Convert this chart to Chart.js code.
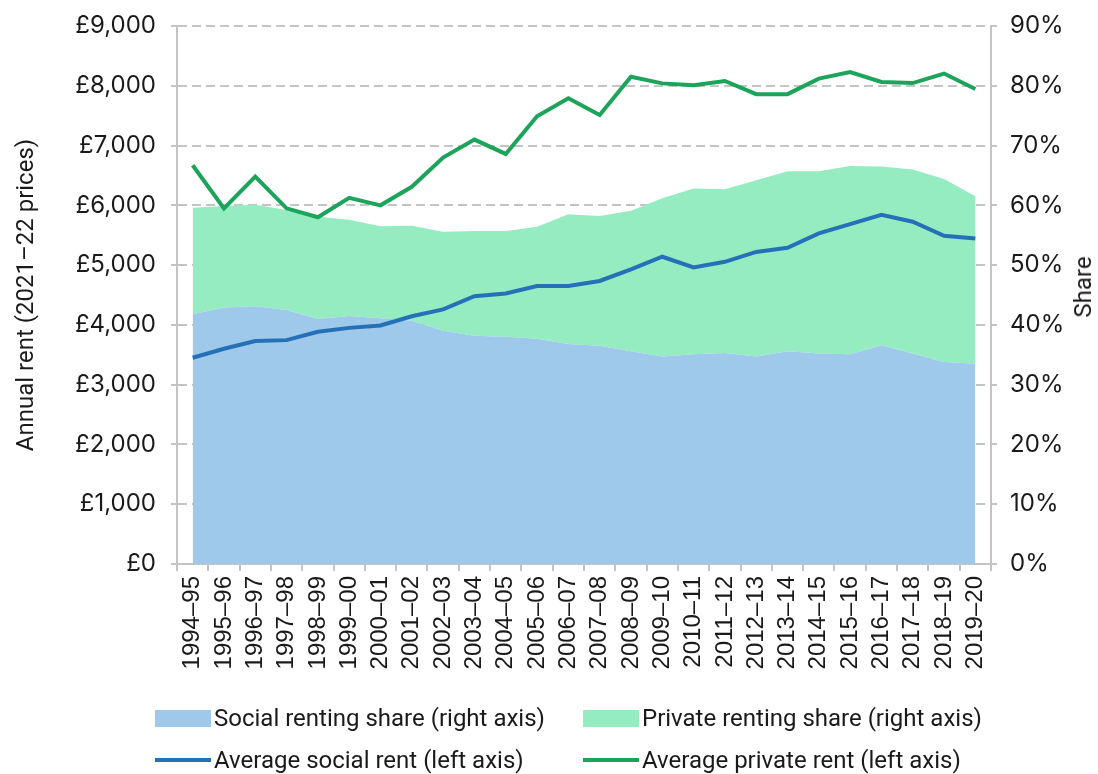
<!DOCTYPE html>
<html>
<head>
<meta charset="utf-8">
<script src="https://cdn.jsdelivr.net/npm/chart.js@4"></script>
<style>
  body { margin: 0; background: #fff; }
  #wrap { position: relative; width: 1098px; height: 774px; }
  #rentChart { position: absolute; left: 0; top: 0; }
  #shareTitle {
    position: absolute; left: 1083px; top: 287px;
    transform: translate(-50%, -50%) rotate(-90deg);
    font: 24px Roboto, sans-serif; color: #1a1a1a; white-space: nowrap;
  }
  #legend {
    position: absolute; left: 155px; top: 704px;
    display: grid; grid-template-columns: 428px auto; row-gap: 14px;
    font: 24px Roboto, sans-serif; color: #1a1a1a;
  }
  .item { display: flex; align-items: center; height: 28px; white-space: nowrap; }
  .swatch { display: inline-block; width: 56px; margin-right: 3px; }
</style>
</head>
<body>
<div id="wrap">
  <canvas id="rentChart" width="1098" height="774"></canvas>
  <div id="shareTitle">Share</div>
  <div id="legend"></div>
</div>
<script>
// Data

const years = ['1994–95', '1995–96', '1996–97', '1997–98', '1998–99', '1999–00', '2000–01',
    '2001–02', '2002–03', '2003–04', '2004–05', '2005–06', '2006–07', '2007–08', '2008–09',
    '2009–10', '2010–11', '2011–12', '2012–13', '2013–14', '2014–15', '2015–16', '2016–17',
    '2017–18', '2018–19', '2019–20'];

// shares of households, %
const socialShare = [41.8, 42.9, 43.1, 42.5, 41.0, 41.5, 41.1, 40.7, 39.0, 38.2, 38.0, 37.7, 36.8,
    36.5, 35.6, 34.7, 35.1, 35.3, 34.7, 35.6, 35.2, 35.1, 36.6, 35.2, 33.8, 33.5];
const privateShare = [17.8, 17.0, 17.0, 16.7, 17.1, 16.1, 15.4, 15.9, 16.6, 17.5, 17.7, 18.7, 21.7,
    21.7, 23.5, 26.5, 27.7, 27.4, 29.5, 30.1, 30.5, 31.5, 29.9, 30.8, 30.6, 28.0];

// annual rent, £ (2021-22 prices)
const socialRent = [3450, 3600, 3730, 3745, 3885, 3950, 3990, 4145, 4260, 4480, 4525, 4650, 4650,
    4735, 4930, 5140, 4960, 5055, 5220, 5290, 5530, 5685, 5840, 5725, 5490, 5445];
const privateRent = [6670, 5950, 6480, 5950, 5800, 6125, 6000, 6310, 6800, 7100, 6860, 7490, 7790,
    7510, 8150, 8040, 8010, 8080, 7860, 7860, 8120, 8230, 8065, 8045, 8205, 7945];

const rentTicks = ['£0', '£1,000', '£2,000', '£3,000', '£4,000', '£5,000', '£6,000', '£7,000', '£8,000', '£9,000'];
const shareTicks = ['0%', '10%', '20%', '30%', '40%', '50%', '60%', '70%', '80%', '90%'];

const GRID = '#c4c4c4';
const TEXT = '#1a1a1a';

const datasets = [
    {
        label: 'Social renting share (right axis)',
        data: socialShare,
        yAxisID: 'y2',
        stack: 'share',
        backgroundColor: 'rgb(158, 201, 235)',
        borderWidth: 0,
        pointRadius: 0,
        fill: 'origin',
        order: 2,
        legendType: 'box'
    },
    {
        label: 'Private renting share (right axis)',
        data: privateShare,
        yAxisID: 'y2',
        stack: 'share',
        backgroundColor: 'rgb(149, 236, 192)',
        borderWidth: 0,
        pointRadius: 0,
        fill: '-1',
        order: 2,
        legendType: 'box'
    },
    {
        label: 'Average social rent (left axis)',
        data: socialRent,
        yAxisID: 'y',
        borderColor: '#2571b8',
        backgroundColor: '#2571b8',
        borderWidth: 4,
        pointRadius: 0,
        fill: false,
        tension: 0,
        order: 0,
        legendType: 'line'
    },
    {
        label: 'Average private rent (left axis)',
        data: privateRent,
        yAxisID: 'y',
        borderColor: '#1ca45b',
        backgroundColor: '#1ca45b',
        borderWidth: 4,
        pointRadius: 0,
        fill: false,
        tension: 0,
        order: 0,
        legendType: 'line'
    }
];

// fix the side axes' size so the plot area lands where the original has it
function fixSide(width) {
    return (scale) => {
        scale.width = width;
        scale.paddingTop = 12;
        scale.paddingBottom = 12;
    };
}

const ctx = document.getElementById('rentChart').getContext('2d');

const rentChart = new Chart(ctx, {
    type: 'line',
    data: { labels: years, datasets: datasets },
    options: {
        responsive: false,
        animation: false,
        layout: { padding: { top: 26, right: 0, bottom: 0, left: 0 } },
        plugins: {
            legend: { display: false },
            tooltip: { enabled: false }
        },
        scales: {
            x: {
                offset: true,
                grid: {
                    offset: true,
                    drawOnChartArea: false,
                    color: GRID,
                    lineWidth: 2,
                    tickLength: 7
                },
                border: { color: GRID, width: 2 },
                ticks: {
                    autoSkip: false,
                    minRotation: 90,
                    maxRotation: 90,
                    padding: 5,
                    color: TEXT,
                    font: { family: 'Liberation Sans, Arial, sans-serif', size: 24 }
                },
                afterFit: (scale) => { scale.height = 210; }
            },
            y: {
                position: 'left',
                min: 0,
                max: 9000,
                ticks: {
                    stepSize: 1000,
                    padding: 15,
                    color: TEXT,
                    font: { family: 'Inter, sans-serif', size: 24 },
                    callback: (value, i) => rentTicks[i]
                },
                grid: {
                    color: GRID,
                    lineWidth: 2,
                    tickLength: 6
                },
                border: { color: GRID, width: 2, dash: [9, 5] },
                title: {
                    display: true,
                    text: 'Annual rent (2021–22 prices)',
                    color: TEXT,
                    padding: { top: 13, bottom: 0 },
                    font: { family: 'Roboto, sans-serif', size: 24 }
                },
                afterFit: fixSide(177)
            },
            y2: {
                position: 'right',
                stacked: true,
                min: 0,
                max: 90,
                ticks: {
                    stepSize: 10,
                    padding: 13,
                    color: TEXT,
                    font: { family: 'Inter, sans-serif', size: 24 },
                    callback: (value, i) => shareTicks[i]
                },
                grid: {
                    drawOnChartArea: false,
                    color: GRID,
                    lineWidth: 2,
                    tickLength: 6
                },
                border: { color: GRID, width: 2 },
                afterFit: fixSide(107)
            }
        }
    }
});

// legend as html, two columns like the original
function buildLegend(chart) {
    const box = document.getElementById('legend');
    chart.data.datasets.forEach(ds => {
        const item = document.createElement('div');
        item.className = 'item';
        const sw = document.createElement('span');
        sw.className = 'swatch';
        if (ds.legendType === 'box') {
            sw.style.height = '17px';
            sw.style.background = ds.backgroundColor;
        } else {
            sw.style.height = '4px';
            sw.style.background = ds.borderColor;
        }
        const txt = document.createElement('span');
        txt.textContent = ds.label;
        item.appendChild(sw);
        item.appendChild(txt);
        box.appendChild(item);
    });
}
buildLegend(rentChart);
</script>
</body>
</html>
